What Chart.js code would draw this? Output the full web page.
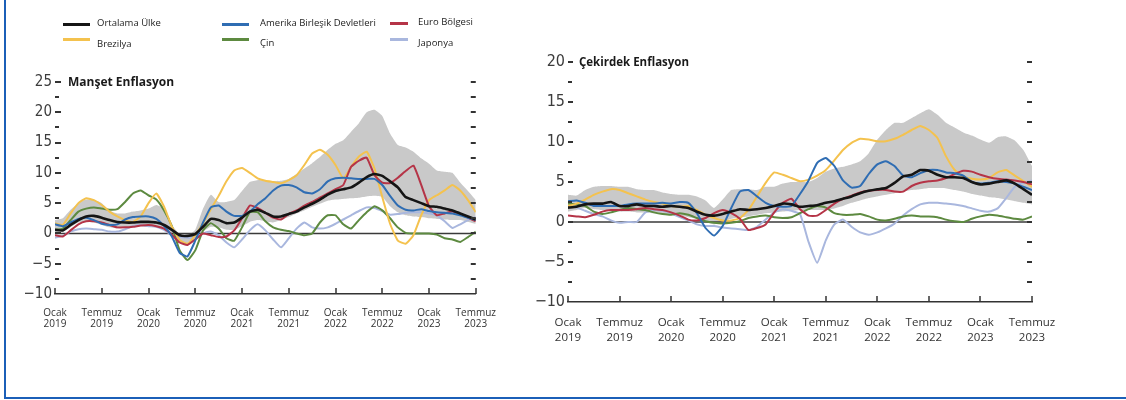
<!DOCTYPE html>
<html>
<head>
<meta charset="utf-8">
<script src="https://cdn.jsdelivr.net/npm/chart.js@4.4.0/dist/chart.umd.min.js"></script>
<style>
  body { margin: 0; background: #fff; }
  #page { position: relative; width: 1126px; height: 400px; overflow: hidden; background: #fff; }
  #frame { position: absolute; left: 4px; top: 0; width: 1122px; height: 399px; box-sizing: border-box;
           border-left: 2px solid #1b5fb8; border-bottom: 2px solid #1b5fb8; }
  canvas { position: absolute; top: 0; }
  #cLeft { left: 0; }
  #cRight { left: 510px; }
  .lg-line { position: absolute; height: 3px; }
  .lg-text { position: absolute; font-family: "Open Sans", sans-serif; font-size: 9.5px; color: #222; line-height: 12px; white-space: nowrap; }
  .title { position: absolute; font-family: "Open Sans", sans-serif; font-weight: bold; color: #1a1a1a; white-space: nowrap; }
</style>
</head>
<body>
<div id="page">
  <div id="frame"></div>
  <canvas id="cLeft" width="510" height="400"></canvas>
  <canvas id="cRight" width="616" height="400"></canvas>
  <div id="legend"></div>
  <div class="title" style="left:68px;top:73px;font-size:12px;">Manşet Enflasyon</div>
  <div class="title" style="left:579px;top:54px;font-size:11.5px;">Çekirdek Enflasyon</div>
</div>
<script>
// aylar: Ocak 2019 - Temmuz 2023 (55 ay), x ekseninde ay sirasi
var xTickLabels = [['Ocak', '2019'], ['Temmuz', '2019'], ['Ocak', '2020'], ['Temmuz', '2020'], ['Ocak', '2021'],
                   ['Temmuz', '2021'], ['Ocak', '2022'], ['Temmuz', '2022'], ['Ocak', '2023'], ['Temmuz', '2023']];
var seriesNames = ['Ortalama Ülke', 'Amerika Birleşik Devletleri', 'Euro Bölgesi', 'Brezilya', 'Çin', 'Japonya'];

// Manşet Enflasyon
var avgL = [0.6,0.5,1.4,2.2,2.8,2.9,2.6,2.2,1.9,1.8, 1.8,1.9,1.9,1.8,1.4,0.6,-0.3,-0.4,-0.1,1.1,
            2.4,2.2,1.7,1.8,2.6,3.6,3.9,3.4,2.8,2.8, 3.2,3.6,4.3,4.9,5.6,6.4,7.0,7.3,7.6,8.4,
            9.3,9.8,9.5,8.6,7.6,6.0,5.5,5.0,4.5,4.4, 4.1,3.8,3.3,2.8,2.3];
var usL = [1.5,1.2,1.8,2.4,2.6,2.2,1.6,1.4,1.5,2.3, 2.7,2.8,2.8,2.4,1.2,-0.5,-3.2,-3.8,-1.2,1.8,
           4.3,4.6,3.6,2.9,2.9,3.6,4.8,5.8,7.1,7.9, 8.0,7.6,6.8,6.6,7.3,8.6,9.1,9.2,9.1,9.0,
           9.0,9.0,8.0,6.2,4.6,3.9,3.8,4.0,3.7,3.5, 3.4,3.3,3.0,2.6,2.2];
var euroL = [-0.3,-0.5,0.5,1.5,2.0,2.0,1.8,1.4,1.0,1.0, 1.1,1.3,1.4,1.2,0.8,-0.2,-1.5,-1.9,-1.0,0.0,
             -0.3,-0.6,-0.5,0.5,2.5,4.6,4.2,3.4,2.6,2.3, 3.2,3.8,4.6,5.2,5.9,6.6,7.3,8.0,11.0,12.0,
             12.5,9.6,8.4,8.3,9.2,10.3,11.2,8.0,4.5,3.0, 3.3,3.6,3.2,2.6,2.0];
var brazilL = [1.7,1.4,3.3,5.0,5.8,5.5,4.7,3.6,2.8,2.2, 1.9,2.8,5.0,6.6,4.4,1.1,-1.1,-1.7,-0.3,1.7,
               4.0,6.2,8.6,10.4,10.8,10.0,9.1,8.7,8.5,8.3, 8.8,9.6,11.3,13.2,13.8,13.0,11.3,9.1,11.0,12.7,
               13.5,10.7,6.0,1.6,-1.2,-1.7,-0.3,3.0,5.5,6.3, 7.1,8.0,7.1,5.5,3.5];
var chinaL = [0.6,0.8,2.2,3.6,4.1,4.3,4.1,3.9,4.0,5.2, 6.6,7.1,6.3,5.6,3.8,1.2,-2.8,-4.4,-2.8,0.5,
              1.7,0.8,-0.8,-1.2,1.0,3.5,3.5,2.0,1.0,0.6, 0.4,0.0,-0.3,0.0,1.8,3.0,3.0,1.5,0.8,2.2,
              3.5,4.5,3.8,2.5,1.0,0.1,0.0,0.0,0.0,-0.2, -0.8,-1.0,-1.4,-0.6,0.3];
var japanL = [-0.7,-0.4,0.3,0.7,0.8,0.7,0.6,0.3,0.3,0.7, 1.2,1.4,1.2,1.1,0.6,-0.3,-0.6,-0.7,-0.7,0.0,
              0.3,-0.3,-1.5,-2.3,-1.0,0.5,1.5,0.5,-1.0,-2.3, -0.8,0.8,1.8,1.0,0.8,1.0,1.6,2.3,3.0,3.7,
              4.3,4.2,3.7,3.1,3.2,3.4,3.5,3.5,3.3,3.0, 2.0,0.9,1.5,2.2,2.7];
var bandHiL = [2.2,2.5,3.9,5.0,5.6,5.5,5.0,3.8,3.3,3.3, 3.6,3.8,4.1,4.7,4.1,1.4,-0.1,-0.4,0.6,4.1,
               6.4,5.2,5.2,5.5,7.0,8.5,8.8,8.7,8.6,8.7, 9.0,9.8,10.7,11.6,12.6,13.8,14.8,15.4,16.8,18.2,
               20.0,20.4,19.4,16.5,14.6,14.2,13.5,12.4,11.5,10.4, 10.2,10.0,8.4,7.0,5.5];
var bandLoL = [0.0,0.3,1.0,1.8,1.9,1.8,1.4,1.0,0.8,1.0, 1.1,1.2,1.1,1.0,0.6,-0.4,-1.4,-1.7,-1.1,0.3,
               1.1,1.0,0.6,0.6,1.2,1.9,2.2,2.0,1.8,2.2, 2.7,3.3,3.8,4.4,4.9,5.4,5.6,5.7,5.8,5.9,
               6.1,6.2,6.0,4.5,3.5,3.0,2.8,2.7,2.5,2.4, 2.3,2.2,2.2,1.9,1.6];

// Çekirdek Enflasyon
var avgR = [1.8,1.9,2.2,2.3,2.3,2.5,2.0,2.0,2.2,2.0, 2.0,1.9,2.0,1.9,1.75,1.3,0.9,0.8,1.0,1.3,
            1.6,1.5,1.6,1.75,2.0,2.3,2.2,1.9,2.0,2.1, 2.4,2.6,2.9,3.2,3.6,3.9,4.1,4.25,4.9,5.7,
            5.9,6.5,6.4,5.9,5.6,5.6,5.5,5.0,4.7,4.8, 5.0,5.2,4.8,4.1,3.4];
var usR = [2.6,2.7,2.4,2.0,2.0,2.0,2.0,2.2,2.3,2.3, 2.3,2.4,2.3,2.5,2.4,1.1,-0.75,-1.7,-0.5,1.75,
           3.8,4.0,3.2,2.4,2.0,1.9,2.0,3.5,5.2,7.4, 8.0,7.0,5.2,4.3,4.5,6.0,7.2,7.6,7.0,5.8,
           5.6,6.1,6.5,6.5,6.2,6.1,5.8,5.0,4.8,4.9, 5.1,5.0,4.8,4.4,4.0];
var euroR = [0.8,0.7,0.6,0.9,1.3,1.5,1.5,1.5,1.6,1.75, 1.6,1.5,1.2,0.8,0.3,0.2,0.5,1.1,1.5,1.1,
             0.4,-1.0,-0.75,-0.3,1.2,2.4,2.9,1.6,0.8,0.8, 1.5,2.3,2.9,3.3,3.7,3.9,4.0,4.0,3.8,3.8,
             4.5,4.9,5.1,5.2,5.5,6.0,6.4,6.3,5.9,5.6, 5.4,5.3,5.2,5.0,4.7];
var brazilR = [2.0,2.3,2.8,3.4,3.8,4.1,4.0,3.6,3.2,2.8, 2.5,2.3,2.0,1.9,2.0,1.5,0.9,0.5,0.2,0.2,
               0.5,1.5,3.2,4.9,6.2,5.9,5.5,5.1,5.3,5.8, 6.5,7.7,9.0,9.9,10.4,10.3,10.1,10.1,10.4,10.9,
               11.5,12.0,11.5,10.5,8.2,6.5,5.7,5.4,5.3,5.5, 6.2,6.5,5.8,5.1,4.4];
var chinaR = [2.3,2.2,2.0,1.3,1.0,1.2,1.5,1.75,1.6,1.5, 1.2,1.0,0.9,1.1,0.9,0.5,0.1,-0.1,-0.2,-0.1,
              0.1,0.5,0.7,0.8,0.6,0.5,0.6,1.1,1.6,2.0, 1.8,1.1,0.9,0.9,1.0,0.7,0.3,0.2,0.4,0.7,
              0.8,0.7,0.7,0.6,0.3,0.1,0.0,0.4,0.7,0.9, 0.8,0.6,0.4,0.3,0.7];
var japanR = [2.0,1.8,1.4,1.0,0.7,0.2,-0.1,0.0,0.0,1.2, 1.5,1.4,1.1,0.6,0.2,-0.3,-0.5,-0.5,-0.7,-0.8,
              -0.9,-1.0,-0.6,0.3,1.2,1.6,1.4,1.0,-2.5,-5.1, -2.3,-0.3,0.3,-0.6,-1.3,-1.6,-1.3,-0.8,-0.2,0.8,
              1.6,2.2,2.4,2.4,2.3,2.2,2.0,1.7,1.4,1.3, 1.7,3.0,4.4,4.9,5.2];
var bandHiR = [3.4,3.3,4.0,4.4,4.5,4.5,4.4,4.4,4.1,4.0, 4.0,3.7,3.5,3.4,3.4,3.2,2.7,1.75,2.8,4.0,
               4.1,4.1,4.0,4.4,4.4,4.8,5.0,5.0,5.0,5.5, 6.3,6.7,6.9,7.2,7.6,8.6,10.3,11.5,12.4,12.4,
               13.0,13.6,14.1,13.4,12.4,11.8,11.2,10.8,10.3,9.9, 10.6,10.7,10.2,9.0,7.0];
var bandLoR = [1.3,1.5,1.75,1.6,1.5,1.5,1.3,1.3,1.2,1.2, 1.1,1.0,0.9,0.8,0.6,0.4,0.0,-0.3,0.0,0.4,
               0.6,0.7,0.9,1.1,1.2,1.3,1.4,1.5,1.5,1.5, 1.5,1.7,2.0,2.4,2.7,3.0,3.2,3.4,3.6,3.8,
               4.0,4.1,4.25,4.25,4.2,4.0,3.8,3.5,3.3,3.1, 3.0,2.8,2.6,2.4,2.2];

var lineColors = ['#151515', '#2f6db3', '#b53447', '#f4c24e', '#5d8a40', '#a9b7de'];
var bandColor = '#c9c9c9';

// lejant (html)
var legendPos = [[63, 97, 23, 17], [222, 260, 23, 17], [390, 418, 22, 16],
                 [63, 97, 38, 38], [222, 260, 38, 37], [390, 418, 38, 37]];
var lg = document.getElementById('legend');
seriesNames.forEach(function (name, i) {
  var p = legendPos[i];
  var ln = document.createElement('div');
  ln.className = 'lg-line';
  ln.style.left = p[0] + 'px';
  ln.style.top = p[2] + 'px';
  ln.style.width = (i === 2 || i === 5 ? 18 : 27) + 'px';
  ln.style.background = lineColors[i];
  lg.appendChild(ln);
  var tx = document.createElement('div');
  tx.className = 'lg-text';
  tx.style.left = p[1] + 'px';
  tx.style.top = p[3] + 'px';
  tx.textContent = name;
  lg.appendChild(tx);
});

function toPoints(vals) {
  return vals.map(function (v, i) { return { x: i, y: v }; });
}

function buildDatasets(series, hi, lo) {
  var sets = series.map(function (vals, i) {
    return {
      label: seriesNames[i],
      data: toPoints(vals),
      borderColor: lineColors[i],
      borderWidth: i === 0 ? 2.6 : 2,
      pointRadius: 0,
      tension: 0.15,
      fill: false,
      order: 0
    };
  });
  // gri bant: ust ve alt sinir
  sets.push({ label: 'ust', data: toPoints(hi), borderWidth: 0, borderColor: 'transparent',
              pointRadius: 0, tension: 0.15, backgroundColor: bandColor, fill: '+1', order: 10 });
  sets.push({ label: 'alt', data: toPoints(lo), borderWidth: 0, borderColor: 'transparent',
              pointRadius: 0, tension: 0.15, fill: false, order: 10 });
  return sets;
}

function fmtTick(v) {
  if (v % 5 !== 0) return '';
  return v < 0 ? '\u2212' + Math.abs(v) : '' + v;
}

// sifir cizgisi + iceri dogru tik isaretleri
var axisMarks = {
  id: 'axisMarks',
  afterDatasetDraw: function (chart, args) {
    if (args.index !== 6) return;
    var a = chart.chartArea, ctx = chart.ctx;
    var y0 = chart.scales.y.getPixelForValue(0);
    ctx.save();
    ctx.strokeStyle = '#3a3a3a';
    ctx.lineWidth = 1.6;
    ctx.beginPath();
    ctx.moveTo(a.left, y0);
    ctx.lineTo(a.right, y0);
    ctx.stroke();
    ctx.restore();
  },
  afterDraw: function (chart, args, opts) {
    var a = chart.chartArea, ctx = chart.ctx;
    var xs = chart.scales.x, ys = chart.scales.y;
    ctx.save();
    ctx.strokeStyle = '#333';
    ctx.lineWidth = 1.5;
    xs.ticks.forEach(function (t) {
      var px = Math.round(xs.getPixelForValue(t.value));
      ctx.beginPath();
      ctx.moveTo(px, a.bottom);
      ctx.lineTo(px, a.bottom - 6);
      ctx.stroke();
    });
    ctx.lineWidth = 2;
    ys.ticks.forEach(function (t) {
      if (t.value === ys.min) return;
      var py = Math.round(ys.getPixelForValue(t.value));
      var len = t.value % 5 === 0 ? opts.major : opts.minor;
      ctx.beginPath();
      ctx.moveTo(a.left, py);
      ctx.lineTo(a.left + len, py);
      ctx.moveTo(a.right - 5, py);
      ctx.lineTo(a.right, py);
      ctx.stroke();
    });
    ctx.restore();
  }
};

function makeChart(id, series, hi, lo, cfg) {
  return new Chart(document.getElementById(id), {
    type: 'line',
    data: { datasets: buildDatasets(series, hi, lo) },
    options: {
      responsive: false,
      animation: false,
      devicePixelRatio: 1,
      layout: { padding: { top: cfg.top, right: cfg.right, left: 0, bottom: 0 } },
      plugins: {
        legend: { display: false },
        tooltip: { enabled: false },
        axisMarks: { major: cfg.major, minor: 4 }
      },
      scales: {
        x: {
          type: 'linear', min: 0, max: 54,
          afterFit: function (s) { s.height = cfg.xHeight; },
          ticks: {
            stepSize: 6, autoSkip: false, maxRotation: 0, padding: cfg.xPad, color: '#333',
            font: { family: '"Open Sans", sans-serif', size: cfg.xFont, lineHeight: cfg.xLine },
            callback: function (v) { return xTickLabels[v / 6]; }
          },
          grid: { display: false, drawTicks: false },
          border: { display: true, color: '#333', width: 1.5 }
        },
        y: {
          min: cfg.min, max: cfg.max,
          afterFit: function (s) { s.width = cfg.yWidth; },
          ticks: {
            stepSize: 2.5, autoSkip: false, padding: 3, color: '#3c3c3c',
            font: { family: '"Liberation Sans Narrow", "DejaVu Sans Condensed", "Liberation Sans", sans-serif', size: cfg.yFont },
            callback: fmtTick
          },
          grid: { display: false, drawTicks: false },
          border: { display: false }
        }
      }
    },
    plugins: [axisMarks]
  });
}

var chartL = makeChart('cLeft', [avgL, usL, euroL, brazilL, chinaL, japanL], bandHiL, bandLoL,
  { min: -10, max: 25, top: 82, right: 27, xHeight: 106, yWidth: 55, xPad: 14, xFont: 10, xLine: 1.1, yFont: 15, major: 6 });
var chartR = makeChart('cRight', [avgR, usR, euroR, brazilR, chinaR, japanR], bandHiR, bandLoR,
  { min: -10, max: 20, top: 62, right: 94, xHeight: 98, yWidth: 58, xPad: 14, xFont: 11.5, xLine: 1.25, yFont: 16, major: 5 });
</script>
</body>
</html>
